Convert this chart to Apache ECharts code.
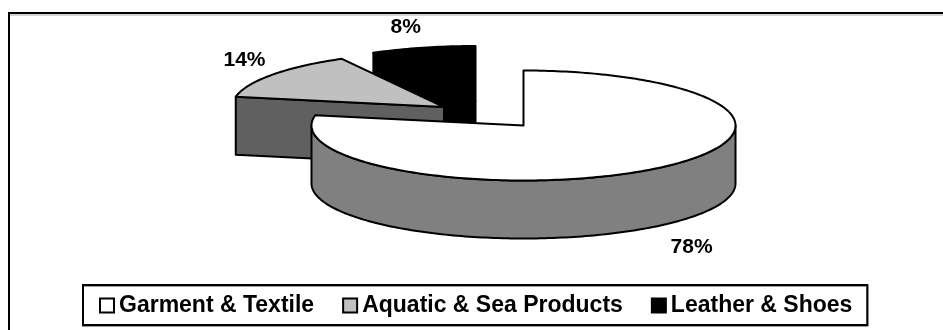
<!DOCTYPE html>
<html>
<head>
<meta charset="utf-8">
<style>html,body{margin:0;padding:0;background:#fff}#chart{width:943px;height:330px}</style>
<script src="https://cdn.jsdelivr.net/npm/echarts@6/dist/echarts.min.js"></script>
</head>
<body>
<div id="chart"></div>
<script>
// Export shares by product group, in percent.
const categories = ['Garment & Textile', 'Aquatic & Sea Products', 'Leather & Shoes'];
const shares = [78, 14, 8];

// Face colours per slice: top surface, outer wall, cut face.
const topColors = ['#ffffff', '#c0c0c0', '#000000'];
const wallColors = ['#808080', '#808080', '#000000'];
const cutColors = [null, '#606060', '#000000'];

// Projected pie geometry, in the hidden 943x330 plot units.
const radiusX = 212;
const radiusY = 55;
const depth = 58;
const sliceCentres = [[523.5, 125.5], [444, 107], [475.5, 101]];
const labelOffsets = [[33, 79], [-28, -14], [-17, -21]];
const drawOrder = [3, 2, 1];

const total = shares.reduce((a, b) => a + b, 0);
const toAngle = v => echarts.number.linearMap(v, [0, total], [0, Math.PI * 2]);

function rimPoint(centre, angle, drop) {
  return [centre[0] + radiusX * Math.sin(angle), centre[1] - radiusY * Math.cos(angle) + drop];
}

function arcPoints(centre, from, to, drop) {
  const steps = Math.max(2, Math.ceil(Math.abs(to - from) / 0.02));
  const pts = [];
  for (let i = 0; i <= steps; i++) pts.push(rimPoint(centre, from + (to - from) * i / steps, drop));
  return pts;
}

function makeRender(index) {
  return function (params, api) {
    const value = api.value(0);
    const before = shares.slice(0, index).reduce((a, b) => a + b, 0);
    const start = toAngle(before);
    const end = toAngle(before + value);
    const centre = sliceCentres[index];
    const px = pts => pts.map(p => api.coord(p));
    const children = [];
    const face = (pts, fill) => children.push({
      type: 'polygon',
      shape: { points: px(pts) },
      style: { fill: fill, stroke: '#000', lineWidth: 2, lineJoin: 'round' }
    });

    // Outer wall for the part of the rim that faces the viewer.
    const wallFrom = Math.max(start, Math.PI / 2);
    const wallTo = Math.min(end, Math.PI * 1.5);
    if (wallTo > wallFrom) {
      face(arcPoints(centre, wallFrom, wallTo, 0)
        .concat(arcPoints(centre, wallTo, wallFrom, depth)), wallColors[index]);
    }
    // Cut face along the slice's leading radius.
    if (cutColors[index]) {
      face([rimPoint(centre, start, 0), centre, [centre[0], centre[1] + depth],
        rimPoint(centre, start, depth)], cutColors[index]);
    }
    // Top surface.
    face([centre].concat(arcPoints(centre, start, end, 0)), topColors[index]);

    // Percentage label beside the slice's middle.
    const mid = rimPoint(centre, (start + end) / 2, 0);
    const at = api.coord([mid[0] + labelOffsets[index][0], mid[1] + labelOffsets[index][1]]);
    children.push({
      type: 'text',
      x: at[0], y: at[1],
      style: {
        text: value + '%', fill: '#000', align: 'center', verticalAlign: 'middle',
        font: 'bold 21px "Liberation Sans", Arial, sans-serif'
      }
    });
    return { type: 'group', children: children };
  };
}

const chart = echarts.init(document.getElementById('chart'), null, { renderer: 'canvas' });
chart.setOption({
  animation: false,
  backgroundColor: '#ffffff',
  grid: { left: 0, right: 0, top: 0, bottom: 0 },
  xAxis: { type: 'value', min: 0, max: 943, show: false },
  yAxis: { type: 'value', min: 0, max: 330, inverse: true, show: false },
  legend: {
    data: categories,
    left: 83, top: 285,
    padding: [9, 15, 8, 16],
    itemGap: 28,
    itemWidth: 14, itemHeight: 14,
    icon: 'rect',
    backgroundColor: '#fff',
    borderColor: '#000',
    borderWidth: 2,
    shadowColor: '#999',
    shadowOffsetY: 1,
    shadowOffsetX: 0,
    shadowBlur: 0,
    selectedMode: false,
    itemStyle: { borderColor: '#000', borderWidth: 2 },
    textStyle: { color: '#000', fontWeight: 'bold', fontSize: 23, fontFamily: '"Liberation Sans", Arial, sans-serif' }
  },
  graphic: [
    { type: 'line', silent: true, shape: { x1: 9, y1: 15, x2: 943, y2: 15 }, style: { stroke: '#aaa', lineWidth: 1 } },
    { type: 'rect', silent: true, shape: { x: 9, y: 13, width: 960, height: 340 }, style: { fill: 'none', stroke: '#000', lineWidth: 2 } }
  ],
  series: categories.map((name, i) => ({
    type: 'custom',
    name: name,
    coordinateSystem: 'cartesian2d',
    z: drawOrder[i],
    silent: true,
    itemStyle: { color: topColors[i] },
    encode: { x: 1, y: 1 },
    data: [[shares[i], 0]],
    renderItem: makeRender(i)
  }))
});
</script>
</body>
</html>
